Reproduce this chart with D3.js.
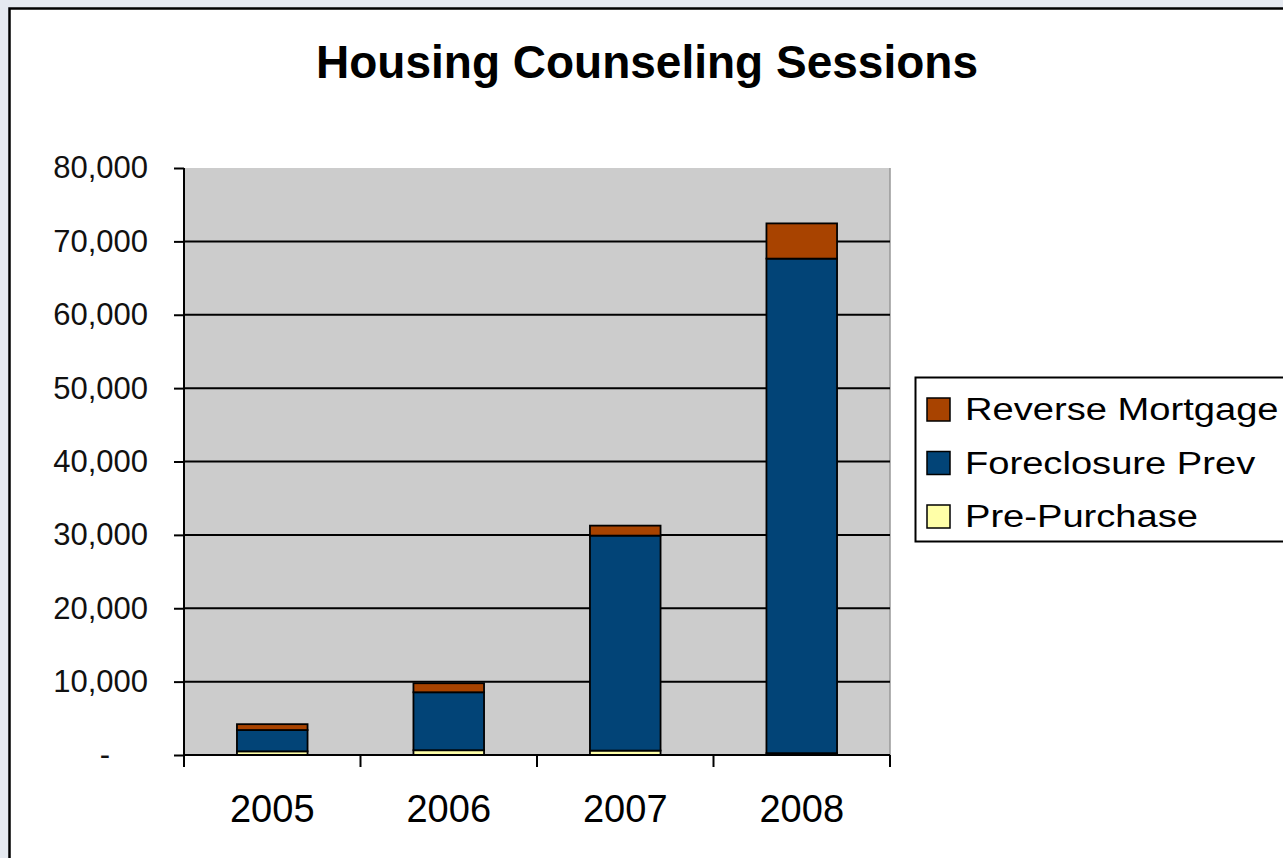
<!DOCTYPE html>
<html>
<head>
<meta charset="utf-8">
<script src="https://cdn.jsdelivr.net/npm/d3@7"></script>
<style>
  html, body { margin: 0; padding: 0; background: #e5e9f0; }
  svg { display: block; font-family: Arial, "Liberation Sans", sans-serif; }
</style>
</head>
<body>
<svg id="chart" width="1283" height="858"></svg>
<script>
// data
var years = ["2005", "2006", "2007", "2008"];
var prePurchase = [500, 650, 600, 250];
var foreclosurePrev = [2900, 7900, 29300, 67400];
var reverseMortgage = [800, 1230, 1360, 4800];
var seriesNames = ["Pre-Purchase", "Foreclosure Prev", "Reverse Mortgage"];
var yTicks = [0, 10000, 20000, 30000, 40000, 50000, 60000, 70000, 80000];

var colors = {"Pre-Purchase": "#ffffa8", "Foreclosure Prev": "#024477", "Reverse Mortgage": "#a84300"};

// plot area
var margin = {top: 168, left: 184},
  width = 890 - margin.left,
  height = 755 - margin.top;

var svg = d3.select("#chart");

// outer chart frame
svg.append("rect")
  .attr("x", 9.5).attr("y", 8.5)
  .attr("width", 1400).attr("height", 1000)
  .attr("fill", "#fff").attr("stroke", "#000").attr("stroke-width", 2.5);

svg.append("text")
  .attr("x", 647).attr("y", 78)
  .attr("text-anchor", "middle")
  .style("font-size", "46px").style("font-weight", "bold")
  .text("Housing Counseling Sessions");

var rows = years.map(function (y, i) {
  return {year: y, "Pre-Purchase": prePurchase[i], "Foreclosure Prev": foreclosurePrev[i], "Reverse Mortgage": reverseMortgage[i]};
});
var stacked = d3.stack().keys(seriesNames)(rows);

var x = d3.scaleBand().domain(years).range([0, width]).paddingInner(0.6).paddingOuter(0.3);
var y = d3.scaleLinear().domain([0, 80000]).range([height, 0]);

var g = svg.append("g").attr("transform", "translate(" + margin.left + "," + margin.top + ")");

g.append("rect")
  .attr("width", width).attr("height", height)
  .attr("fill", "#cccccc");
g.append("line")
  .attr("x1", width).attr("x2", width).attr("y1", 0).attr("y2", height)
  .attr("stroke", "#999").attr("stroke-width", 1.5);

// gridlines
g.selectAll(".grid").data(yTicks.filter(function (d) { return d > 0 && d < 80000; }))
  .enter().append("line")
  .attr("class", "grid")
  .attr("x1", 0).attr("x2", width)
  .attr("y1", function (d) { return y(d); }).attr("y2", function (d) { return y(d); })
  .attr("stroke", "#000").attr("stroke-width", 2);

// bars
g.selectAll(".series").data(stacked).enter().append("g")
  .attr("class", "series")
  .attr("fill", function (d) { return colors[d.key]; })
  .selectAll("rect").data(function (d) { return d; })
  .enter().append("rect")
  .attr("x", function (d) { return x(d.data.year); })
  .attr("y", function (d) { return y(d[1]); })
  .attr("width", x.bandwidth())
  .attr("height", function (d) { return y(d[0]) - y(d[1]); })
  .attr("stroke", "#000").attr("stroke-width", 1.8);

// y axis
var yAxis = d3.axisLeft(y).tickValues(yTicks).tickSize(10).tickPadding(26)
  .tickFormat(function (d) { return d === 0 ? "-" : d3.format(",")(d); });
var ya = g.append("g").call(yAxis);
ya.select(".domain").remove();
ya.selectAll(".tick line").attr("stroke", "#000").attr("stroke-width", 2);
ya.selectAll(".tick text")
  .style("font-size", "31px").attr("fill", "#111")
  .attr("dx", function (d) { return d === 0 ? -38 : 0; });
g.append("line")
  .attr("x1", 0).attr("x2", 0).attr("y1", 0).attr("y2", height + 12)
  .attr("stroke", "#000").attr("stroke-width", 2);

// x axis
g.append("line")
  .attr("x1", 0).attr("x2", width).attr("y1", height).attr("y2", height)
  .attr("stroke", "#000").attr("stroke-width", 2);
var bounds = years.map(function (d) { return x(d) - x.step() * x.paddingInner() / 2; });
bounds[0] = 0;
bounds.push(width);
g.selectAll(".xtick").data(bounds).enter().append("line")
  .attr("class", "xtick")
  .attr("x1", function (d) { return d; }).attr("x2", function (d) { return d; })
  .attr("y1", height).attr("y2", height + 12)
  .attr("stroke", "#000").attr("stroke-width", 2);

var xAxis = d3.axisBottom(x).tickSize(0).tickPadding(40);
var xa = g.append("g").attr("transform", "translate(0," + height + ")").call(xAxis);
xa.select(".domain").remove();
xa.selectAll(".tick text").style("font-size", "38px").attr("fill", "#000");

// legend
var legend = svg.append("g").attr("transform", "translate(915,377)");
legend.append("rect")
  .attr("x", 0.5).attr("y", 0.5).attr("width", 500).attr("height", 164)
  .attr("fill", "#fff").attr("stroke", "#000").attr("stroke-width", 2);
var items = legend.selectAll(".item").data(seriesNames.slice().reverse()).enter().append("g")
  .attr("class", "item")
  .attr("transform", function (d, i) { return "translate(0," + (21 + i * 53.5) + ")"; });
items.append("rect")
  .attr("x", 12).attr("y", 0).attr("width", 23).attr("height", 23)
  .attr("fill", function (d) { return colors[d]; })
  .attr("stroke", "#000").attr("stroke-width", 1.5);
items.append("text")
  .attr("transform", "translate(50,22) scale(1.23,1)")
  .style("font-size", "31px")
  .text(function (d) { return d; });
</script>
</body>
</html>
